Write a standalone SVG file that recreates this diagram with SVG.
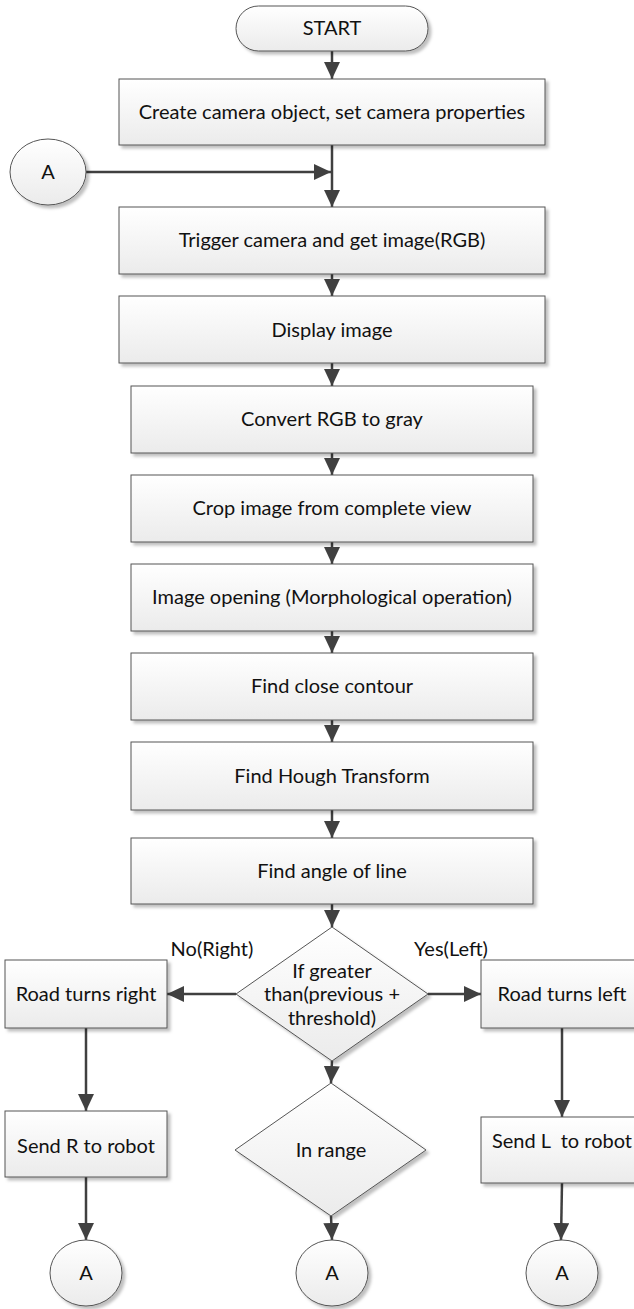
<svg xmlns="http://www.w3.org/2000/svg" width="634" height="1309" viewBox="0 0 634 1309">
<defs>
<linearGradient id="fillGrad" x1="0" y1="0" x2="0" y2="1">
<stop offset="0" stop-color="#ffffff"/>
<stop offset="1" stop-color="#ebebeb"/>
</linearGradient>
<filter id="shadow" x="-10%" y="-10%" width="130%" height="140%">
<feDropShadow dx="3" dy="3" stdDeviation="1.5" flood-color="#000000" flood-opacity="0.25"/>
</filter>
<marker id="arrow" markerUnits="userSpaceOnUse" markerWidth="17" markerHeight="16" refX="17" refY="8" orient="auto">
<path d="M0,0 L17,8 L0,16 z" fill="#404040"/>
</marker>
</defs>
<style>
.shape{fill:url(#fillGrad);stroke:#555555;stroke-width:1;filter:url(#shadow);}
.lbl{font-family:Lato,"Liberation Sans",sans-serif;font-size:20px;fill:#111111;text-anchor:middle;}
.conn line,.conn path{stroke:#404040;stroke-width:2.5;fill:none;marker-end:url(#arrow);}
</style>
<rect width="634" height="1309" fill="#ffffff"/>

<g class="conn" id="connectors">
<line x1="332" y1="51" x2="332" y2="79"/>
<line x1="332" y1="145" x2="332" y2="207"/>
<line x1="86" y1="172" x2="331" y2="172"/>
<line x1="332" y1="274" x2="332" y2="296"/>
<line x1="332" y1="363" x2="332" y2="386"/>
<line x1="332" y1="453" x2="332" y2="475"/>
<line x1="332" y1="542" x2="332" y2="564"/>
<line x1="332" y1="631" x2="332" y2="653"/>
<line x1="332" y1="720" x2="332" y2="742"/>
<line x1="332" y1="810" x2="332" y2="838"/>
<line x1="332" y1="904" x2="332" y2="927"/>
<line x1="236" y1="994" x2="167" y2="994"/>
<line x1="428" y1="994" x2="481" y2="994"/>
<line x1="86" y1="1028" x2="86" y2="1111"/>
<line x1="86" y1="1177" x2="86" y2="1240"/>
<line x1="562" y1="1028" x2="562" y2="1117"/>
<line x1="562" y1="1183" x2="561" y2="1240"/>
<line x1="332" y1="1061" x2="331" y2="1083"/>
<line x1="331" y1="1216" x2="332" y2="1240"/>
</g>

<g id="start">
<rect class="shape" x="236" y="6" width="192" height="45" rx="22.5" ry="22.5"/>
<text class="lbl" x="332" y="35">START</text>
</g>
<g id="create">
<rect class="shape" x="119" y="79" width="426" height="66"/>
<text class="lbl" x="332" y="119">Create camera object, set camera properties</text>
</g>
<g id="connA-top">
<ellipse class="shape" cx="48" cy="172" rx="38" ry="33"/>
<text class="lbl" x="48" y="179">A</text>
</g>
<g id="trigger">
<rect class="shape" x="119" y="207" width="426" height="67"/>
<text class="lbl" x="332" y="247">Trigger camera and get image(RGB)</text>
</g>
<g id="display">
<rect class="shape" x="119" y="296" width="426" height="67"/>
<text class="lbl" x="332" y="337">Display image</text>
</g>
<g id="convert">
<rect class="shape" x="131" y="386" width="402" height="67"/>
<text class="lbl" x="332" y="426">Convert RGB to gray</text>
</g>
<g id="crop">
<rect class="shape" x="131" y="475" width="402" height="67"/>
<text class="lbl" x="332" y="515">Crop image from complete view</text>
</g>
<g id="opening">
<rect class="shape" x="131" y="564" width="402" height="67"/>
<text class="lbl" x="332" y="604">Image opening (Morphological operation)</text>
</g>
<g id="contour">
<rect class="shape" x="131" y="653" width="402" height="67"/>
<text class="lbl" x="332" y="693">Find close contour</text>
</g>
<g id="hough">
<rect class="shape" x="131" y="742" width="402" height="68"/>
<text class="lbl" x="332" y="783">Find Hough Transform</text>
</g>
<g id="angle">
<rect class="shape" x="131" y="838" width="402" height="66"/>
<text class="lbl" x="332" y="878">Find angle of line</text>
</g>
<g id="decision">
<polygon class="shape" points="332,927 428,994 332,1061 236,994"/>
<text class="lbl" x="332" y="978">If greater</text>
<text class="lbl" x="332" y="1001">than(previous +</text>
<text class="lbl" x="332" y="1025">threshold)</text>
</g>
<g id="label-no">
<text class="lbl" x="212" y="956">No(Right)</text>
</g>
<g id="label-yes">
<text class="lbl" x="451" y="956">Yes(Left)</text>
</g>
<g id="road-right">
<rect class="shape" x="5" y="960" width="162" height="68"/>
<text class="lbl" x="86" y="1001">Road turns right</text>
</g>
<g id="road-left">
<rect class="shape" x="481" y="960" width="162" height="68"/>
<text class="lbl" x="562" y="1001">Road turns left</text>
</g>
<g id="send-r">
<rect class="shape" x="5" y="1111" width="162" height="66"/>
<text class="lbl" x="86" y="1153">Send R to robot</text>
</g>
<g id="in-range">
<polygon class="shape" points="331,1083 426,1150 331,1216 235,1150"/>
<text class="lbl" x="331" y="1157">In range</text>
</g>
<g id="send-l">
<rect class="shape" x="481" y="1117" width="162" height="66"/>
<text class="lbl" x="562" y="1148" style="white-space:pre">Send L  to robot</text>
</g>
<g id="connA-left">
<ellipse class="shape" cx="86" cy="1273" rx="36" ry="33"/>
<text class="lbl" x="86" y="1280">A</text>
</g>
<g id="connA-mid">
<ellipse class="shape" cx="332" cy="1273" rx="36" ry="33"/>
<text class="lbl" x="332" y="1280">A</text>
</g>
<g id="connA-right">
<ellipse class="shape" cx="562" cy="1273" rx="36" ry="33"/>
<text class="lbl" x="562" y="1280">A</text>
</g>
</svg>
